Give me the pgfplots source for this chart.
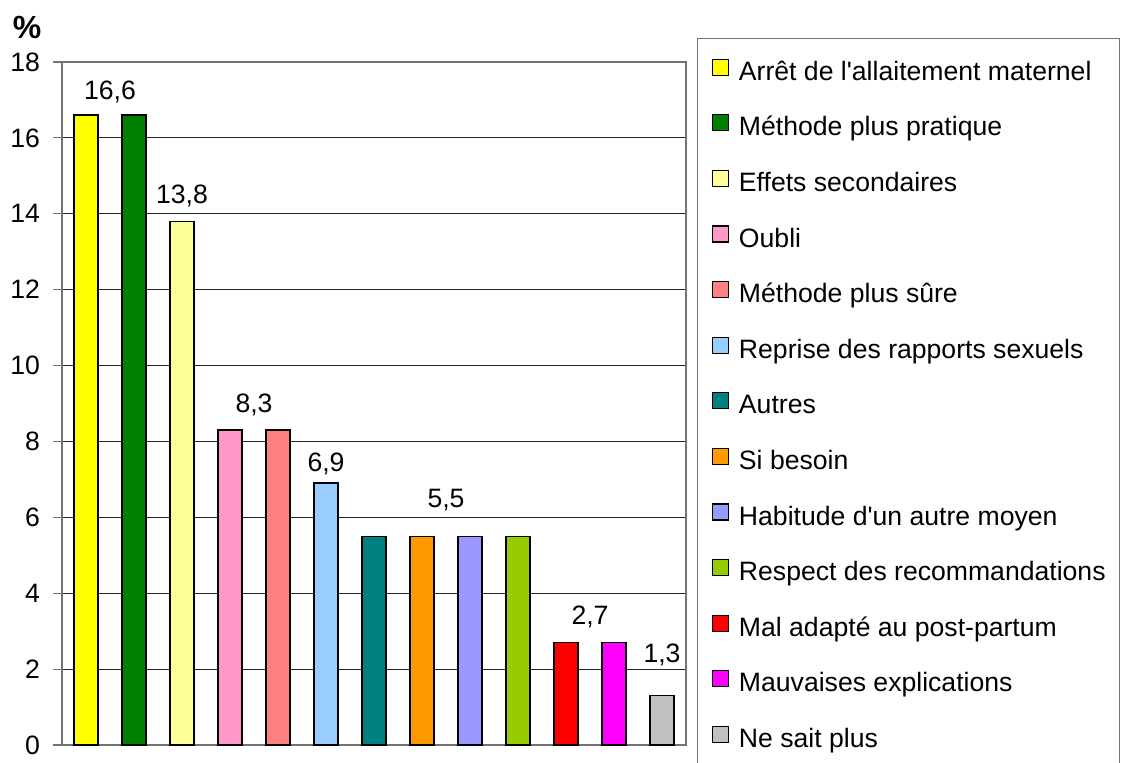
\documentclass[border=0pt]{standalone}
\usepackage{fontspec}
\setmainfont{Liberation Sans}[Ligatures=TeXOff]
\usepackage{pgfplots}
\pgfplotsset{compat=1.18}
\definecolor{cA}{HTML}{FFFF00}
\definecolor{cB}{HTML}{008000}
\definecolor{cC}{HTML}{FFFF99}
\definecolor{cD}{HTML}{FF99CC}
\definecolor{cE}{HTML}{FF8080}
\definecolor{cF}{HTML}{99CCFF}
\definecolor{cG}{HTML}{008080}
\definecolor{cH}{HTML}{FF9900}
\definecolor{cI}{HTML}{9999FF}
\definecolor{cJ}{HTML}{99CC00}
\definecolor{cK}{HTML}{FF0000}
\definecolor{cL}{HTML}{FF00FF}
\definecolor{cM}{HTML}{C0C0C0}
\begin{document}
\begin{tikzpicture}[font=\fontsize{13.3}{15}\selectfont]
\begin{axis}[
 scale only axis, width=312pt, height=341.5pt,
 xmin=0, xmax=13, ymin=0, ymax=18,
 ybar, bar width=12pt, bar shift=0pt,
 xtick=\empty, ytick={0,2,...,18}, ytick pos=left,
 ymajorgrids, grid style={black!85, line width=0.5pt},
 axis line style={black!55, line width=0.6pt},
 major tick length=4.5pt, tick align=outside, tick style={black!55, line width=0.6pt},
 yticklabel style={font=\fontsize{13.3}{15}\selectfont, xshift=-3pt},
 /pgf/number format/assume math mode=true,
 every axis plot/.append style={draw=black, line width=0.7pt},
 legend cell align=left,
 legend style={at={(rel axis cs:1.0176,1.0351)}, anchor=north west,
   draw=black!55, line width=0.6pt, font=\fontsize{13.3}{15}\selectfont,
   inner xsep=7pt, inner ysep=10pt, row sep=14pt,
   nodes={inner sep=0pt, text height=9pt, text depth=3pt}},
 legend image code/.code={\path (0pt,0) (13pt,0); \draw[#1, line width=0.6pt] (0pt,-0.5pt) rectangle (8pt,7.5pt);},
]
\addplot[fill=cA] coordinates {(0.5,16.6)};
\addlegendentry{Arrêt de l'allaitement maternel}
\addplot[fill=cB] coordinates {(1.5,16.6)};
\addlegendentry{Méthode plus pratique}
\addplot[fill=cC] coordinates {(2.5,13.8)};
\addlegendentry{Effets secondaires}
\addplot[fill=cD] coordinates {(3.5,8.3)};
\addlegendentry{Oubli}
\addplot[fill=cE] coordinates {(4.5,8.3)};
\addlegendentry{Méthode plus sûre}
\addplot[fill=cF] coordinates {(5.5,6.9)};
\addlegendentry{Reprise des rapports sexuels}
\addplot[fill=cG] coordinates {(6.5,5.5)};
\addlegendentry{Autres}
\addplot[fill=cH] coordinates {(7.5,5.5)};
\addlegendentry{Si besoin}
\addplot[fill=cI] coordinates {(8.5,5.5)};
\addlegendentry{Habitude d'un autre moyen}
\addplot[fill=cJ] coordinates {(9.5,5.5)};
\addlegendentry{Respect des recommandations}
\addplot[fill=cK] coordinates {(10.5,2.7)};
\addlegendentry{Mal adapté au post-partum}
\addplot[fill=cL] coordinates {(11.5,2.7)};
\addlegendentry{Mauvaises explications}
\addplot[fill=cM] coordinates {(12.5,1.3)};
\addlegendentry{Ne sait plus}
\node at (axis cs:1.0,17.21) {16,6};
\node at (axis cs:2.5,14.47) {13,8};
\node at (axis cs:4.0,8.96) {8,3};
\node at (axis cs:5.5,7.41) {6,9};
\node at (axis cs:8.0,6.46) {5,5};
\node at (axis cs:11.0,3.37) {2,7};
\node at (axis cs:12.5,2.37) {1,3};
\end{axis}
\node at (-17.5pt,359pt) {\fontsize{16}{18}\selectfont\bfseries\%};
\pgfresetboundingbox
\path[use as bounding box] (-31pt,-8.5pt) rectangle (531pt,372.5pt);
\end{tikzpicture}
\end{document}
